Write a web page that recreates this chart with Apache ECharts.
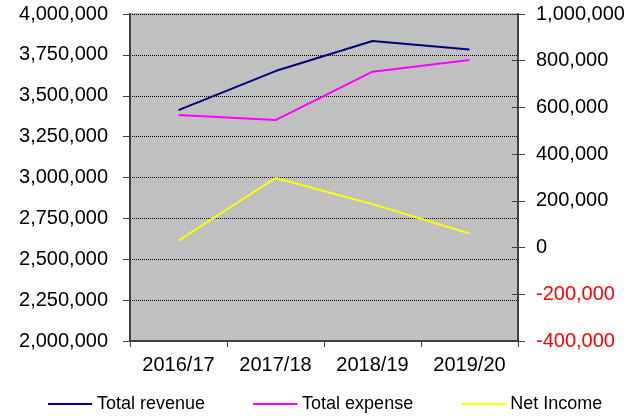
<!DOCTYPE html>
<html>
<head>
<meta charset="utf-8">
<script src="https://cdn.jsdelivr.net/npm/echarts@6/dist/echarts.min.js"></script>
<style>
    html, body { margin: 0; padding: 0; background: #ffffff; }
    #chart { width: 628px; height: 416px; }
</style>
</head>
<body>
<div id="chart"></div>
<script>
// data
const years = ["2016/17", "2017/18", "2018/19", "2019/20"];
const totalRevenue = [3412000, 3651000, 3835000, 3783000];
const totalExpense = [3382000, 3351000, 3647000, 3718000];
const netIncome = [30000, 298000, 186000, 60000];

const FONT = "'Liberation Sans', Arial, sans-serif";
const fmt = (v) => Number(v).toLocaleString("en-US");

const chart = echarts.init(document.getElementById("chart"), null, { renderer: "canvas" });

const option = {
    animation: false,
    backgroundColor: "#ffffff",
    textStyle: { fontFamily: FONT },
    grid: {
        left: 130,
        right: 110,
        top: 14,
        bottom: 75,
        show: true,
        backgroundColor: "#c0c0c0",
        borderColor: "#808080",
        borderWidth: 1,
    },
    legend: {
        left: 43,
        top: 390,
        itemWidth: 44,
        itemHeight: 2,
        itemGap: 48,
        icon: "rect",
        textStyle: { fontFamily: FONT, fontSize: 18, color: "#000" },
        data: ["Total revenue", "Total expense", "Net Income"],
    },
    xAxis: {
        type: "category",
        data: years,
        boundaryGap: true,
        axisLine: { onZero: false, lineStyle: { color: "#404040", width: 2 } },
        axisTick: { show: true, length: 6, lineStyle: { color: "#404040" } },
        axisLabel: { fontFamily: FONT, fontSize: 20, color: "#000", margin: 14 },
        splitLine: { show: false },
    },
    yAxis: [
        {
            type: "value",
            position: "left",
            min: 2000000,
            max: 4000000,
            interval: 250000,
            axisLine: { show: true, lineStyle: { color: "#404040", width: 2 } },
            axisTick: { show: true, length: 7, lineStyle: { color: "#404040" } },
            axisLabel: { fontFamily: FONT, fontSize: 20, color: "#000", margin: 22, formatter: fmt },
            splitLine: { show: true, lineStyle: { color: "#000", type: [1, 1], width: 1 } },
        },
        {
            type: "value",
            position: "right",
            min: -400000,
            max: 1000000,
            interval: 200000,
            axisLine: { show: true, lineStyle: { color: "#404040", width: 2 } },
            axisTick: { show: true, length: 7, lineStyle: { color: "#404040" } },
            axisLabel: {
                fontFamily: FONT,
                fontSize: 20,
                margin: 18,
                formatter: fmt,
                color: (v) => (Number(v) < 0 ? "#ff0000" : "#000000"),
            },
            splitLine: { show: false },
        },
        {
            // inner half of the right-axis ticks (they cross the line)
            type: "value",
            position: "right",
            min: -400000,
            max: 1000000,
            interval: 200000,
            axisLine: { show: false },
            axisTick: { show: true, inside: true, length: 6, lineStyle: { color: "#404040" } },
            axisLabel: { show: false },
            splitLine: { show: false },
        },
    ],
    series: [
        {
            name: "Total revenue",
            type: "line",
            yAxisIndex: 0,
            data: totalRevenue,
            showSymbol: false,
            color: "#000080",
            lineStyle: { width: 2, color: "#000080" },
        },
        {
            name: "Total expense",
            type: "line",
            yAxisIndex: 0,
            data: totalExpense,
            showSymbol: false,
            color: "#ff00ff",
            lineStyle: { width: 2, color: "#ff00ff" },
        },
        {
            name: "Net Income",
            type: "line",
            yAxisIndex: 1,
            data: netIncome,
            showSymbol: false,
            color: "#ffff00",
            lineStyle: { width: 2, color: "#ffff00" },
        },
    ],
};

chart.setOption(option);
</script>
</body>
</html>
